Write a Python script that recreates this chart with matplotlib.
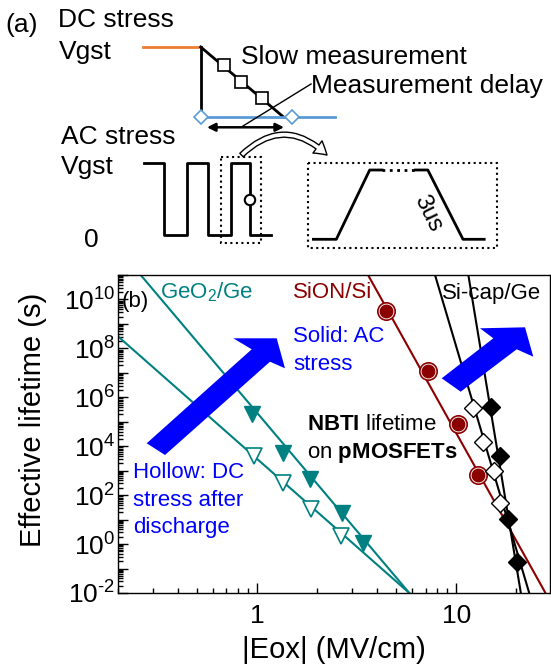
"""
NBTI lifetime vs oxide field, with the stress/measurement schematic on top.
"""

import math
import matplotlib
matplotlib.use('Agg')
import matplotlib.pyplot as plt
from matplotlib.patches import Polygon, Rectangle, Circle, FancyArrowPatch
from matplotlib.ticker import LogLocator, FuncFormatter, NullFormatter

plt.rcParams['font.family'] = 'Liberation Sans'
plt.rcParams['mathtext.fontset'] = 'custom'
plt.rcParams['mathtext.rm'] = 'Liberation Sans'
plt.rcParams['mathtext.bf'] = 'Liberation Sans:bold'
plt.rcParams['mathtext.default'] = 'regular'
plt.rcParams['axes.unicode_minus'] = False

# ---- data ----
# GeO2/Ge, AC stress (solid triangles) and DC after discharge (hollow)
geo_ac_eox = [0.94, 1.34, 1.84, 2.65, 3.39]
geo_ac_life = [2.1e5, 5.4e3, 4.4e2, 1.8e1, 1.1e0]
geo_dc_eox = [0.96, 1.34, 1.86, 2.62]
geo_dc_life = [3.9e3, 3.2e2, 2.6e1, 2.1e0]
geo_ac_fit_eox = [0.26, 5.8]
geo_ac_fit_life = [1e11, 1e-2]
geo_dc_fit_eox = [0.2, 5.8]
geo_dc_fit_life = [3.1e8, 1e-2]

# SiON/Si
sion_eox = [4.45, 7.19, 10.15, 12.78]
sion_life = [3.3e9, 1.2e7, 7.9e4, 6.6e2]
sion_fit_eox = [3.6, 28.0]
sion_fit_life = [1e11, 1e-2]

# Si-cap/Ge, DC (hollow diamonds) and AC (solid diamonds)
sicap_dc_eox = [12.06, 13.54, 15.49, 16.54]
sicap_dc_life = [3.5e5, 1.5e4, 1.0e3, 4.6e1]
sicap_ac_eox = [14.91, 16.54, 18.05, 20.26]
sicap_ac_life = [4.0e5, 3.9e3, 1.1e1, 1.9e-1]
sicap_dc_fit_eox = [7.81, 23.2]
sicap_dc_fit_life = [1e11, 1e-2]
sicap_ac_fit_eox = [11.48, 21.06]
sicap_ac_fit_life = [1e11, 1e-2]

teal = '#008080'
dred = '#8B0000'
blue = '#0000FF'

fig = plt.figure(figsize=(5.51, 6.67), dpi=100)

# ---- (b) main log-log plot ----
ax = fig.add_axes([118 / 551, 74 / 667, 432 / 551, 318 / 667])
ax.set_xscale('log')
ax.set_yscale('log')

ax.plot(geo_ac_fit_eox, geo_ac_fit_life, color=teal, lw=1.5)
ax.plot(geo_dc_fit_eox, geo_dc_fit_life, color=teal, lw=1.5)
ax.plot(geo_ac_eox, geo_ac_life, 'v', color=teal, ms=12)
ax.plot(geo_dc_eox, geo_dc_life, 'v', mfc='white', mec=teal, ms=12, mew=1.2)

ax.plot(sion_fit_eox, sion_fit_life, color=dred, lw=1.5)
ax.plot(sion_eox, sion_life, 'o', mfc='white', mec=dred, ms=12.5, mew=1.2)
ax.plot(sion_eox, sion_life, 'o', color=dred, ms=9)

ax.plot(sicap_dc_fit_eox, sicap_dc_fit_life, color='black', lw=1.5)
ax.plot(sicap_ac_fit_eox, sicap_ac_fit_life, color='black', lw=1.5)
ax.plot(sicap_dc_eox, sicap_dc_life, 'D', mfc='white', mec='black', ms=9.5, mew=1)
ax.plot(sicap_ac_eox, sicap_ac_life, 'D', color='black', ms=9.5)

ax.set_xlim(0.2, 29.5)
ax.set_ylim(1e-2, 1e11)

ax.xaxis.set_major_locator(LogLocator(base=10, numticks=10))
ax.xaxis.set_minor_locator(LogLocator(base=10, subs=range(2, 10), numticks=20))
ax.xaxis.set_major_formatter(FuncFormatter(lambda v, p: '%g' % v))
ax.xaxis.set_minor_formatter(NullFormatter())

ax.yaxis.set_major_locator(LogLocator(base=10, numticks=20))
ax.yaxis.set_minor_locator(LogLocator(base=10, subs=range(2, 10), numticks=40))


def ylab(v, p):
    e = int(round(math.log10(v)))
    if e % 2:
        return ''
    if e < 0:
        # plain hyphen in the exponent, as in the original
        return r'$10^{\text{-}%d}$' % (-e)
    return r'$10^{%d}$' % e


ax.yaxis.set_major_formatter(FuncFormatter(ylab))
ax.yaxis.set_minor_formatter(NullFormatter())

ax.tick_params(which='both', direction='in', top=False, right=False, width=1)
ax.tick_params(which='major', length=7)
ax.tick_params(which='minor', length=3.5)
ax.tick_params(axis='x', labelsize=19, pad=8)
ax.tick_params(axis='y', labelsize=19, pad=2)
for s in ax.spines.values():
    s.set_linewidth(1)

ax.set_xlabel('|Eox| (MV/cm)', fontsize=21)
ax.set_ylabel('Effective lifetime (s)', fontsize=21)
ax.xaxis.set_label_coords(0.5, -0.135)
ax.yaxis.set_label_coords(-0.165, 0.544)

# ---- overlay in pixel units: schematic (a), arrows and notes ----
ov = fig.add_axes([0, 0, 1, 1], zorder=5)
ov.set_xlim(0, 551)
ov.set_ylim(667, 0)
ov.axis('off')
ov.patch.set_visible(False)

fs = 19
ov.text(5, 25, '(a)', fontsize=fs, va='center')
ov.text(58, 20, 'DC stress', fontsize=fs, va='center')
ov.text(59, 52, 'Vgst', fontsize=fs, va='center')
ov.text(241, 57, 'Slow measurement', fontsize=fs, va='center')
ov.text(311, 86, 'Measurement delay', fontsize=fs, va='center')
ov.text(61, 137, 'AC stress', fontsize=fs, va='center')
ov.text(61, 167, 'Vgst', fontsize=fs, va='center')
ov.text(84, 240, '0', fontsize=fs, va='center')

# DC stress / slow measurement
ov.plot([142.6, 200.7], [47, 47], color='#ED7D31', lw=2)
ov.plot([200.7, 200.7], [47, 113], color='black', lw=2)
ov.plot([200.7, 283.5], [47, 117], color='black', lw=2)
ov.plot([223.6, 241.2, 262.3], [65, 81.7, 98.3], 's', mfc='white', mec='black',
        ms=8, mew=1.2)
ov.plot([197, 334.5], [116.7, 116.7], color='#5B9BD5', lw=2)
ov.plot([200.7, 291.5], [116.7, 116.7], 'D', mfc='white', mec='#5B9BD5', ms=7, mew=1.2)
ov.annotate('', xy=(284, 127.3), xytext=(207, 127.3),
            arrowprops=dict(arrowstyle='<|-|>', lw=1.8, color='black',
                            mutation_scale=12, shrinkA=0, shrinkB=0))
ov.plot([243, 311], [126, 84], color='black', lw=1)

# AC stress waveform
ov.plot([144.4, 163.7, 163.7, 186.6, 186.6, 207.7, 207.7, 230.6, 230.6, 250, 250, 271.1],
        [163.3, 163.3, 235, 235, 163.3, 163.3, 235, 235, 163.3, 163.3, 235, 235],
        color='black', lw=2)
ov.add_patch(Circle((250, 200), 5.2, fc='white', ec='black', lw=1.5, zorder=3))
ov.add_patch(Rectangle((221.1, 156.7), 39.5, 86.6, fill=False, ls=':', lw=1.5,
                       ec='black'))
ov.add_patch(FancyArrowPatch((239.5, 157), (329, 157), connectionstyle='arc3,rad=-0.5',
                             arrowstyle='simple,head_length=9,head_width=11,tail_width=3.5',
                             fc='white', ec='black', lw=1))
ov.add_patch(Rectangle((308.1, 163.3), 188.4, 85, fill=False, ls=':', lw=1.5,
                       ec='black'))
ov.plot([313.4, 336.3, 369.7, 382], [239.3, 239.3, 170, 170], color='black', lw=2)
ov.plot([382, 415.5], [170, 170], color='black', lw=2, ls=':')
ov.plot([415.5, 427.8, 463, 484.2], [170, 170, 239.3, 239.3], color='black', lw=2)
ov.text(428, 213, '3us', fontsize=17, rotation=-64, ha='center', va='center')

# block arrows on the plot
ov.add_patch(Polygon([(146.7, 443.3), (165, 455), (270, 361.7), (285, 368.3),
                      (276.7, 338.3), (233.3, 338.3), (251.7, 349.3)],
                     closed=True, fc=blue, ec='none'))
ov.add_patch(Polygon([(441.7, 378.3), (460.7, 391.7), (516.7, 349.3), (533.3, 356.7),
                      (525, 327.3), (480, 328.3), (493.3, 338.3)],
                     closed=True, fc=blue, ec='none'))

fb = 16
ov.text(122, 302, '(b)', fontsize=fb, va='center')
ov.text(160, 292, r'GeO$_2$/Ge', fontsize=fb, va='center', color=teal)
ov.text(293, 292, 'SiON/Si', fontsize=fb, va='center', color=dred)
ov.text(442, 293, 'Si-cap/Ge', fontsize=fb, va='center', color='black')
ov.text(293, 336, 'Solid: AC', fontsize=fb, va='center', color=blue)
ov.text(293, 364, 'stress', fontsize=fb, va='center', color=blue)
ov.text(307, 425, r'$\mathbf{NBTI}$ lifetime', fontsize=fb, va='center')
ov.text(307, 453, r'on $\mathbf{pMOSFETs}$', fontsize=fb, va='center')
ov.text(133, 473, 'Hollow: DC', fontsize=fb, va='center', color=blue)
ov.text(133, 501, 'stress after', fontsize=fb, va='center', color=blue)
ov.text(133, 528, 'discharge', fontsize=fb, va='center', color=blue)

fig.savefig('out.png', dpi=100)
